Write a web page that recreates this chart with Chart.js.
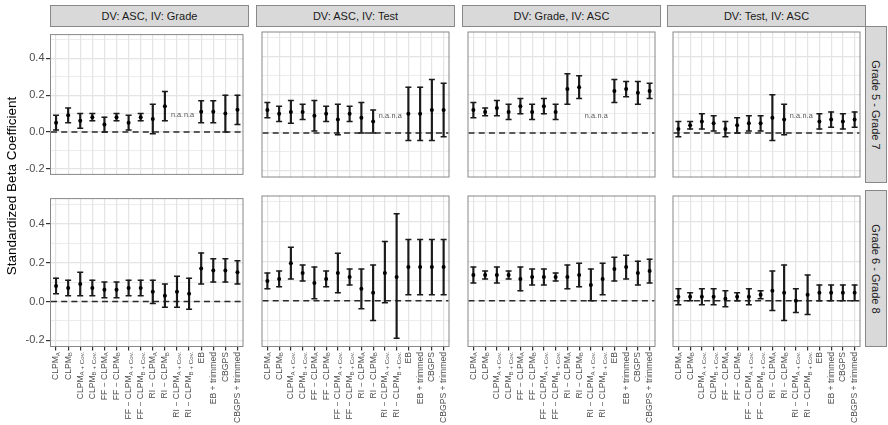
<!DOCTYPE html>
<html><head><meta charset="utf-8">
<script src="https://cdn.jsdelivr.net/npm/chart.js@4/dist/chart.umd.min.js"></script>
<style>
body{margin:0;background:#fff;width:888px;height:425px;overflow:hidden;position:relative;font-family:"Liberation Sans",Arial,sans-serif;}
canvas{position:absolute;}
.strip{position:absolute;box-sizing:border-box;background:#D9D9D9;border:1px solid #888;color:#1A1A1A;font-size:11px;display:flex;align-items:center;justify-content:center;white-space:nowrap;}
.strip span{display:inline-block;}
.rstrip span{transform:rotate(90deg);}
#ytitle{position:absolute;left:-138px;top:178px;width:300px;height:16px;line-height:16px;text-align:center;font-size:13.5px;color:#000;transform:rotate(-90deg);white-space:nowrap;z-index:5;}
</style></head><body>
<div id="ytitle">Standardized Beta Coefficient</div>
<script>
// ---------- data ----------
const categories = ["CLPM_{A}", "CLPM_{B}", "CLPM_{A + Cov.}", "CLPM_{B + Cov.}",
  "FF \u2212 CLPM_{A}", "FF \u2212 CLPM_{B}", "FF \u2212 CLPM_{A + Cov.}", "FF \u2212 CLPM_{B + Cov.}",
  "RI \u2212 CLPM_{A}", "RI \u2212 CLPM_{B}", "RI \u2212 CLPM_{A + Cov.}", "RI \u2212 CLPM_{B + Cov.}",
  "EB", "EB + trimmed", "CBGPS", "CBGPS + trimmed"];
const panelTitles = ["DV: ASC, IV: Grade", "DV: ASC, IV: Test", "DV: Grade, IV: ASC", "DV: Test, IV: ASC"];
const rowTitles = ["Grade 5 - Grade 7", "Grade 6 - Grade 8"];
const naText = ["n.a.", "n.a"];
const naValue = 0.09;
const refLineValue = 0;

// Grade 5 - Grade 7
const est_r1c1 = [0.05,0.09,0.06,0.08,0.04,0.08,0.05,0.08,0.07,0.14,null,null,0.11,0.11,0.10,0.12];
const lo_r1c1  = [0.01,0.05,0.02,0.06,0.00,0.06,0.01,0.06,-0.01,0.06,null,null,0.05,0.05,0.00,0.04];
const hi_r1c1  = [0.09,0.13,0.10,0.10,0.08,0.10,0.09,0.10,0.15,0.22,null,null,0.17,0.17,0.20,0.20];

const est_r1c2 = [0.12,0.10,0.11,0.11,0.09,0.10,0.07,0.10,0.08,0.06,null,null,0.10,0.10,0.12,0.12];
const lo_r1c2  = [0.08,0.06,0.05,0.07,0.01,0.06,-0.01,0.06,0.00,0.00,null,null,-0.04,-0.04,-0.04,-0.02];
const hi_r1c2  = [0.16,0.14,0.17,0.15,0.17,0.14,0.15,0.14,0.16,0.12,null,null,0.24,0.24,0.28,0.26];

const est_r1c3 = [0.12,0.11,0.13,0.11,0.14,0.11,0.14,0.11,0.23,0.24,null,null,0.22,0.23,0.21,0.22];
const lo_r1c3  = [0.08,0.09,0.09,0.07,0.10,0.07,0.10,0.07,0.15,0.18,null,null,0.16,0.19,0.15,0.18];
const hi_r1c3  = [0.16,0.13,0.17,0.15,0.18,0.15,0.18,0.15,0.31,0.30,null,null,0.28,0.27,0.27,0.26];

const est_r1c4 = [0.02,0.04,0.06,0.05,0.02,0.04,0.05,0.05,0.08,0.07,null,null,0.06,0.07,0.06,0.07];
const lo_r1c4  = [-0.02,0.02,0.02,0.01,-0.02,0.00,0.01,0.01,-0.04,-0.01,null,null,0.02,0.03,0.02,0.03];
const hi_r1c4  = [0.06,0.06,0.10,0.09,0.06,0.08,0.09,0.09,0.20,0.15,null,null,0.10,0.11,0.10,0.11];

// Grade 6 - Grade 8
const est_r2c1 = [0.08,0.07,0.09,0.07,0.06,0.06,0.07,0.07,0.05,0.03,0.05,0.04,0.17,0.16,0.16,0.15];
const lo_r2c1  = [0.04,0.03,0.03,0.03,0.02,0.02,0.03,0.03,-0.01,-0.03,-0.03,-0.04,0.09,0.10,0.10,0.09];
const hi_r2c1  = [0.12,0.11,0.15,0.11,0.10,0.10,0.11,0.11,0.11,0.09,0.13,0.12,0.25,0.22,0.22,0.21];

const est_r2c2 = [0.10,0.11,0.19,0.14,0.09,0.11,0.14,0.12,0.06,0.04,0.14,0.12,0.17,0.17,0.17,0.17];
const lo_r2c2  = [0.06,0.07,0.11,0.10,0.01,0.07,0.04,0.08,-0.04,-0.10,-0.01,-0.19,0.03,0.03,0.03,0.03];
const hi_r2c2  = [0.14,0.15,0.27,0.18,0.17,0.15,0.24,0.16,0.16,0.18,0.30,0.44,0.31,0.31,0.31,0.31];

const est_r2c3 = [0.13,0.13,0.13,0.13,0.11,0.12,0.12,0.12,0.12,0.13,0.08,0.11,0.16,0.17,0.14,0.15];
const lo_r2c3  = [0.09,0.11,0.09,0.11,0.05,0.08,0.08,0.10,0.06,0.07,0.00,0.03,0.10,0.11,0.08,0.09];
const hi_r2c3  = [0.17,0.15,0.17,0.15,0.17,0.16,0.16,0.14,0.18,0.19,0.16,0.19,0.22,0.23,0.20,0.21];

const est_r2c4 = [0.02,0.02,0.02,0.02,0.01,0.02,0.02,0.03,0.05,0.04,0.00,0.03,0.04,0.04,0.04,0.04];
const lo_r2c4  = [-0.02,0.00,-0.02,-0.02,-0.03,0.00,-0.02,0.01,-0.05,-0.10,-0.06,-0.07,0.00,0.00,0.00,0.00];
const hi_r2c4  = [0.06,0.04,0.06,0.06,0.05,0.04,0.06,0.05,0.15,0.18,0.06,0.13,0.08,0.08,0.08,0.08];

const panels = [
  [[est_r1c1, lo_r1c1, hi_r1c1], [est_r1c2, lo_r1c2, hi_r1c2], [est_r1c3, lo_r1c3, hi_r1c3], [est_r1c4, lo_r1c4, hi_r1c4]],
  [[est_r2c1, lo_r2c1, hi_r2c1], [est_r2c2, lo_r2c2, hi_r2c2], [est_r2c3, lo_r2c3, hi_r2c3], [est_r2c4, lo_r2c4, hi_r2c4]]
];

// ---------- layout ----------
const FONT = '"Liberation Sans", Arial, sans-serif';
Chart.defaults.font.family = FONT;
const COLS = [50, 256, 462, 667];
const PW = 199, PH = 157;
const ROWS = [26, 190];
const YW = 50, XH = 78;
const GRID = '#E4E4E4';
const isMajor = v => Math.round(v * 10) % 2 === 0;

function parseLabel(s) {
  const m = s.match(/^(.*?)_\{(.*)\}$/);
  return m ? [{t: m[1], sub: false}, {t: m[2], sub: true}] : [{t: s, sub: false}];
}

const borderPlugin = {
  id: 'pborder',
  afterDraw(chart) {
    const a = chart.chartArea, ctx = chart.ctx;
    ctx.save();
    ctx.strokeStyle = '#888'; ctx.lineWidth = 1;
    ctx.strokeRect(a.left + 0.5, a.top + 0.5, a.right - a.left - 1, a.bottom - a.top - 1);
    ctx.restore();
  }
};

const hlinePlugin = {
  id: 'hline',
  beforeDatasetsDraw(chart) {
    const a = chart.chartArea, ctx = chart.ctx;
    const y = chart.scales.y.getPixelForValue(refLineValue);
    ctx.save();
    ctx.strokeStyle = '#2a2a2a'; ctx.lineWidth = 1.5;
    ctx.setLineDash([6, 4.2]);
    ctx.beginPath();
    ctx.moveTo(a.left + 1, y); ctx.lineTo(a.right - 1, y);
    ctx.stroke();
    ctx.restore();
  }
};

const xLabelPlugin = {
  id: 'xlabels',
  afterDraw(chart) {
    const ctx = chart.ctx, xs = chart.scales.x, area = chart.chartArea;
    ctx.save();
    ctx.fillStyle = '#4D4D4D';
    chart.data.labels.forEach((lab, i) => {
      const segs = parseLabel(lab);
      const x = xs.getPixelForValue(i);
      const y = area.bottom + 5;
      let w = 0;
      segs.forEach(sg => {
        ctx.font = (sg.sub ? '6.2px ' : '8.6px ') + FONT;
        sg.w = ctx.measureText(sg.t).width; w += sg.w;
      });
      ctx.save();
      ctx.translate(x, y);
      ctx.rotate(-Math.PI / 2);
      ctx.textAlign = 'left'; ctx.textBaseline = 'middle';
      let px = -w;
      segs.forEach(sg => {
        ctx.font = (sg.sub ? '6.2px ' : '8.6px ') + FONT;
        ctx.fillText(sg.t, px, sg.sub ? 2.2 : 0);
        px += sg.w;
      });
      ctx.restore();
    });
    ctx.restore();
  }
};

const naPlugin = {
  id: 'nalabels',
  afterDatasetsDraw(chart) {
    const ctx = chart.ctx, xs = chart.scales.x, ys = chart.scales.y;
    const est = chart.data.datasets[2].data;
    ctx.save();
    ctx.fillStyle = '#555';
    ctx.font = '7.3px ' + FONT;
    ctx.textAlign = 'center'; ctx.textBaseline = 'middle';
    let k = 0;
    est.forEach((v, i) => {
      if (v === null) {
        ctx.fillText(naText[k % naText.length], xs.getPixelForValue(i), ys.getPixelForValue(naValue));
        k++;
      }
    });
    ctx.restore();
  }
};

function addDiv(cls, text, l, t, w, h) {
  const d = document.createElement('div');
  d.className = cls;
  const s = document.createElement('span');
  s.textContent = text;
  d.appendChild(s);
  Object.assign(d.style, {left: l + 'px', top: t + 'px', width: w + 'px', height: h + 'px'});
  document.body.appendChild(d);
}

for (let c = 0; c < 4; c++) addDiv('strip', panelTitles[c], COLS[c], 5, PW, 22);
for (let r = 0; r < 2; r++) addDiv('strip rstrip', rowTitles[r], 865, ROWS[r], 22, PH);

for (let r = 0; r < 2; r++) {
  for (let c = 0; c < 4; c++) {
    const [est, lo, hi] = panels[r][c];
    const yW = c === 0 ? YW : 0;
    const xH = r === 1 ? XH : 0;
    const cv = document.createElement('canvas');
    const left = COLS[c] - yW;
    cv.width = PW + yW; cv.height = PH + xH;
    Object.assign(cv.style, {left: left + 'px', top: ROWS[r] + 'px', width: cv.width + 'px', height: cv.height + 'px'});
    document.body.appendChild(cv);
    const plugins = [hlinePlugin, borderPlugin];
    if (r === 1) plugins.push(xLabelPlugin);
    if (r === 0) plugins.push(naPlugin);
    new Chart(cv, {
      type: 'bar',
      data: {
        labels: categories,
        datasets: [
          {type: 'bar', data: lo.map((v, i) => v === null ? null : [v, hi[i]]), backgroundColor: '#1a1a1a',
           barThickness: 1.5, borderWidth: 0, grouped: false, order: 3},
          {type: 'line', data: hi, showLine: false, pointStyle: 'line', pointRadius: 3,
           pointBorderColor: '#1a1a1a', pointBorderWidth: 1.5, order: 2},
          {type: 'line', data: est, showLine: false, pointStyle: 'circle', pointRadius: 2,
           pointBackgroundColor: '#000', pointBorderWidth: 0, order: 1},
          {type: 'line', data: lo, showLine: false, pointStyle: 'line', pointRadius: 3,
           pointBorderColor: '#1a1a1a', pointBorderWidth: 1.5, order: 2}
        ]
      },
      options: {
        responsive: false, animation: false, events: [], devicePixelRatio: 1,
        layout: {padding: 0},
        plugins: {legend: {display: false}, tooltip: {enabled: false}},
        scales: {
          x: {type: 'category', offset: true,
              grid: {offset: false, color: GRID, lineWidth: 1.2, drawTicks: r === 1, tickLength: 3.5, tickColor: '#333'},
              border: {display: false}, ticks: {display: false},
              afterFit: s => { s.height = xH; }},
          y: {min: -0.234, max: 0.532,
              grid: {color: GRID, lineWidth: ctx => isMajor(ctx.tick.value) ? 1.2 : 0.7,
                     drawTicks: c === 0, tickLength: 4,
                     tickColor: ctx => isMajor(ctx.tick.value) ? '#333' : 'rgba(0,0,0,0)'},
              border: {display: false},
              ticks: {display: c === 0, stepSize: 0.1, includeBounds: false, autoSkip: false, padding: 1.5,
                      color: '#4D4D4D', font: {family: FONT, size: 11},
                      callback: v => isMajor(v) ? v.toFixed(1) : ''},
              afterFit: s => { s.width = yW; }}
        }
      },
      plugins: plugins
    });
  }
}
</script>
</body></html>
